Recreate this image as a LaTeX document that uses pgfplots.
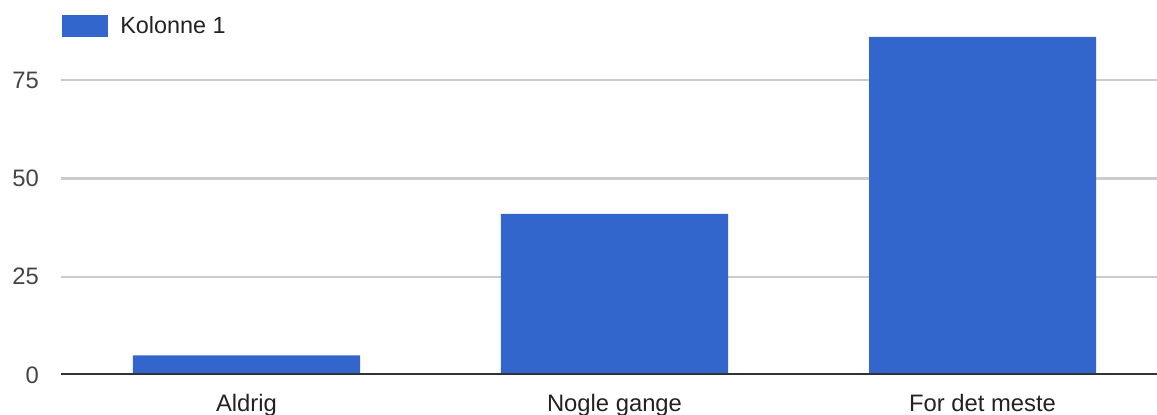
\documentclass[border=0pt]{standalone}
\usepackage{pgfplots}
\pgfplotsset{compat=1.18}
\usepackage{fontspec}
\setmainfont{Liberation Sans}
\definecolor{barblue}{HTML}{3366CC}
\definecolor{gridgray}{HTML}{CCCCCC}
\definecolor{basecol}{HTML}{333333}
\definecolor{ticktxt}{HTML}{444444}
\definecolor{labtxt}{HTML}{222222}
\begin{document}
\begin{tikzpicture}
\path[use as bounding box] (0pt,0pt) rectangle (1157pt,415pt);
\begin{axis}[
  at={(61pt,40pt)}, anchor=south west,
  scale only axis,
  width=1096pt, height=375pt,
  xmin=-0.504, xmax=2.474,
  ymin=0, ymax=95.4,
  axis line style={draw=none},
  major tick length=0pt,
  xtick={0,1,2},
  xticklabels={Aldrig,Nogle gange,For det meste},
  ytick={25,50,75},
  extra y ticks={0},
  extra y tick style={grid=none},
  ymajorgrids,
  grid style={color=gridgray, line width=2.2pt},
  tick label style={font=\fontsize{23.8}{28}\selectfont},
  xticklabel style={anchor=north, inner sep=0pt, yshift=-19pt, color=labtxt},
  yticklabel style={anchor=east, inner sep=0pt, xshift=-22pt, color=ticktxt},
  /pgf/number format/assume math mode=true,
  ybar, bar width=0.617,
  legend style={at={(rel axis cs:0.001,0.9307)}, anchor=west, draw=none, fill=none,
    inner sep=0pt, font=\fontsize{23.4}{28}\selectfont\color{labtxt},
    /tikz/every even column/.append style={column sep=0pt}},
  legend image code/.code={\fill[barblue] (0pt,-11pt) rectangle (46pt,11pt);},
]
\addplot[fill=barblue, draw=none] coordinates {(0,5) (1,41) (2,86)};
\addlegendentry{\hspace{10pt}Kolonne 1}
\draw[color=basecol, line width=3pt] (rel axis cs:0,0) -- (rel axis cs:1,0);
\end{axis}
\end{tikzpicture}
\end{document}
